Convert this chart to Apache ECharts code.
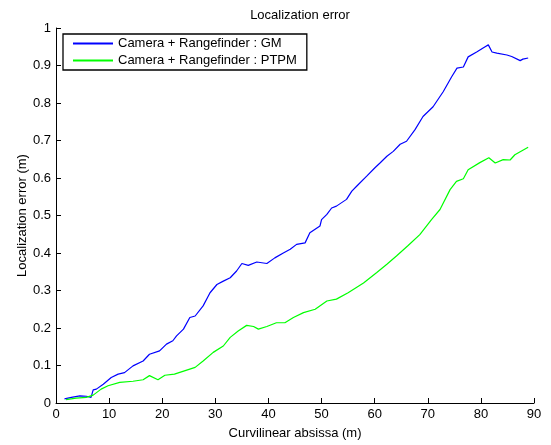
<!DOCTYPE html>
<html>
<head>
<meta charset="utf-8">
<script src="https://cdn.jsdelivr.net/npm/echarts@6/dist/echarts.min.js"></script>
<style>html,body{margin:0;padding:0;background:#fff}#c{width:551px;height:445px}</style>
</head>
<body>
<div id="c"></div>
<script>
const titleText = 'Localization error';
const xName = 'Curvilinear absissa (m)';
const yName = 'Localization error (m)';
const seriesNames = ['Camera + Rangefinder : GM', 'Camera + Rangefinder : PTPM'];

const gmX = [1.6,2.9,4.5,5.7,6.6,7.0,7.6,8.9,10.4,11.7,12.9,14.5,16.4,17.6,19.5,20.8,22.0,22.7,24.0,25.2,26.2,27.7,29.0,30.3,31.5,32.8,34.0,35.0,36.2,37.8,39.7,41.2,42.8,44.1,45.3,46.9,47.8,49.7,50.0,51.0,51.9,52.8,54.7,55.7,56.6,58.5,60.1,61.0,62.3,63.5,64.8,66.0,67.6,69.1,71.0,72.9,74.5,75.5,76.7,77.6,79.2,80.8,81.4,82.1,83.0,84.9,85.8,87.4,87.9,88.9];
const gmY = [0.011,0.015,0.019,0.018,0.015,0.035,0.037,0.05,0.068,0.077,0.081,0.099,0.112,0.13,0.139,0.157,0.166,0.179,0.197,0.228,0.232,0.259,0.294,0.316,0.325,0.334,0.352,0.372,0.367,0.376,0.372,0.387,0.40,0.41,0.423,0.427,0.454,0.472,0.489,0.503,0.52,0.525,0.543,0.565,0.578,0.605,0.628,0.64,0.658,0.671,0.69,0.698,0.729,0.764,0.79,0.83,0.87,0.893,0.896,0.923,0.936,0.95,0.955,0.936,0.933,0.928,0.924,0.913,0.917,0.92];

const ptpmX = [1.9,3.8,5.7,7.0,8.5,9.8,12.0,14.5,16.4,17.6,19.2,20.5,22.3,23.6,26.2,27.7,29.6,31.5,32.8,34.3,35.9,37.2,38.1,39.7,41.5,43.1,44.7,46.6,48.8,51.0,52.8,55.0,57.9,60.4,62.3,64.1,66.3,68.5,70.7,72.3,74.2,75.4,76.7,77.6,79.8,81.5,82.7,84.2,85.5,86.4,88.9];
const ptpmY = [0.009,0.013,0.015,0.021,0.037,0.046,0.055,0.058,0.062,0.073,0.062,0.074,0.077,0.083,0.095,0.112,0.135,0.152,0.175,0.192,0.207,0.204,0.197,0.204,0.214,0.214,0.228,0.241,0.25,0.272,0.277,0.294,0.32,0.348,0.37,0.392,0.42,0.449,0.489,0.516,0.569,0.591,0.598,0.622,0.641,0.654,0.64,0.649,0.648,0.662,0.682];

const zip = (xs, ys) => xs.map((x, i) => [x, ys[i]]);
const font = 'Liberation Sans, Arial, sans-serif';
const chart = echarts.init(document.getElementById('c'), null, {renderer: 'canvas'});
chart.setOption({
  animation: false,
  backgroundColor: '#fff',
  title: {
    text: titleText, left: 295, top: 4, textAlign: 'center',
    textStyle: {fontFamily: font, fontSize: 13, fontWeight: 'normal', color: '#000'}
  },
  legend: {
    orient: 'vertical', left: 63, top: 34,
    padding: [3, 10, 3, 9],
    itemWidth: 40, itemHeight: 14, itemGap: 4,
    borderColor: '#000', borderWidth: 1.3, backgroundColor: '#fff',
    itemStyle: {opacity: 0},
    textStyle: {fontFamily: font, fontSize: 13, color: '#000'},
    data: seriesNames
  },
  grid: {left: 56, right: 17, top: 28, bottom: 41, containLabel: false},
  xAxis: {
    type: 'value', min: 0, max: 90, interval: 10,
    name: xName, nameLocation: 'middle', nameGap: 24, nameMoveOverlap: false,
    nameTextStyle: {fontFamily: font, fontSize: 13, color: '#000'},
    axisLine: {lineStyle: {color: '#000', width: 1}},
    axisTick: {inside: true, length: 5, lineStyle: {color: '#000'}},
    axisLabel: {fontFamily: font, fontSize: 13, color: '#000', margin: 5},
    splitLine: {show: false}
  },
  yAxis: {
    type: 'value', min: 0, max: 1, interval: 0.1,
    name: yName, nameLocation: 'middle', nameGap: 34, nameMoveOverlap: false,
    nameTextStyle: {fontFamily: font, fontSize: 13, color: '#000', verticalAlign: 'middle'},
    axisLine: {show: true, lineStyle: {color: '#000', width: 1}},
    axisTick: {show: true, inside: true, length: 5, lineStyle: {color: '#000'}},
    axisLabel: {fontFamily: font, fontSize: 13, color: '#000', margin: 5},
    splitLine: {show: false}
  },
  series: [
    {name: seriesNames[0], type: 'line', data: zip(gmX, gmY), symbol: 'none',
     lineStyle: {color: '#0000ff', width: 1.2}, itemStyle: {color: '#0000ff'}},
    {name: seriesNames[1], type: 'line', data: zip(ptpmX, ptpmY), symbol: 'none',
     lineStyle: {color: '#00ff00', width: 1.2}, itemStyle: {color: '#00ff00'}}
  ]
});
</script>
</body>
</html>
